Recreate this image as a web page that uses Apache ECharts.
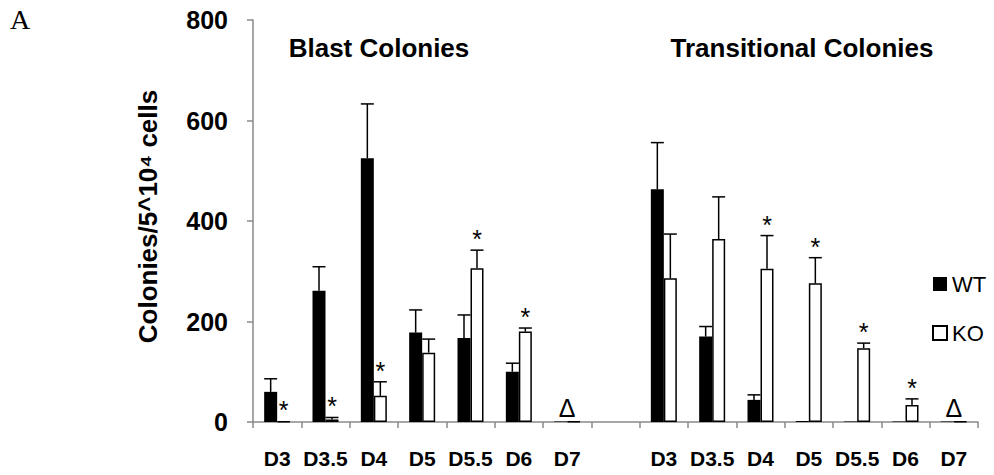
<!DOCTYPE html>
<html>
<head>
<meta charset="utf-8">
<script src="https://cdn.jsdelivr.net/npm/echarts@6/dist/echarts.min.js"></script>
<style>
  html, body { margin: 0; padding: 0; background: #fff; }
  #chart { width: 994px; height: 475px; }
</style>
</head>
<body>
<div id="chart"></div>
<script>
// ---- data ----
var categories = ['D3','D3.5','D4','D5','D5.5','D6','D7','','D3','D3.5','D4','D5','D5.5','D6','D7'];
var wtMean = [60, 261, 525, 178, 167, 100, 1, null, 463, 170, 44, 2, 1, 1, 1];
var wtErr  = [26, 48, 108, 45, 46, 17, 0, null, 93, 20, 10, 0, 0, 0, 0];
var koMean = [1, 5, 52, 138, 306, 180, 1, null, 286, 364, 305, 276, 147, 34, 1];
var koErr  = [0, 4, 28, 27, 36, 7, 0, null, 88, 84, 66, 51, 10, 12, 0];
var marks  = ['*','*','*','','*','*','\u0394','','','','*','*','*','*','\u0394'];
var yTicks = [0, 200, 400, 600, 800];
var panelTitles = ['Blast Colonies', 'Transitional Colonies'];

var FONT = '"Liberation Sans", Arial, sans-serif';
var BAR_W = 13;
var HALF = BAR_W / 2;

var chart = echarts.init(document.getElementById('chart'), null, { renderer: 'svg' });

function errSeries(name, mean, err, dx) {
  return {
    type: 'custom',
    name: name + ' err',
    z: 5,
    silent: true,
    data: mean.map(function (m, i) { return m == null ? [i, null, null] : [i, m, err[i]]; }),
    renderItem: function (params, api) {
      var m = api.value(1), e = api.value(2);
      if (m == null || isNaN(m) || !e) return null;
      var p0 = api.coord([api.value(0), m]);
      var p1 = api.coord([api.value(0), m + e]);
      var x = p0[0] + dx;
      var st = { stroke: '#000', lineWidth: 1.5 };
      return {
        type: 'group',
        children: [
          { type: 'line', shape: { x1: x, y1: p0[1], x2: x, y2: p1[1] }, style: st },
          { type: 'line', shape: { x1: x - HALF, y1: p1[1], x2: x + HALF, y2: p1[1] }, style: st }
        ]
      };
    }
  };
}

var markSeries = {
  type: 'custom',
  name: 'marks',
  z: 6,
  silent: true,
  data: marks.map(function (t, i) {
    var top = koMean[i] == null ? 0 : koMean[i] + (koErr[i] || 0);
    return [i, top];
  }),
  renderItem: function (params, api) {
    var i = params.dataIndex;
    var t = marks[i];
    if (!t) return null;
    var p;
    if (t === '*') {
      p = api.coord([api.value(0), api.value(1)]);
      return { type: 'text', x: p[0] + HALF, y: p[1] - 11,
        style: { text: t, fill: '#000', font: '25px ' + FONT, align: 'center', verticalAlign: 'middle' } };
    }
    p = api.coord([api.value(0), 0]);
    return { type: 'text', x: p[0], y: p[1] - 14,
      style: { text: t, fill: '#000', font: '25px ' + FONT, align: 'center', verticalAlign: 'middle' } };
  }
};

var option = {
  animation: false,
  backgroundColor: '#fff',
  textStyle: { fontFamily: FONT },
  grid: { left: 253, right: 16, top: 20, bottom: 53, containLabel: false, outerBoundsMode: 'none' },
  graphic: [
    { type: 'text', left: 10, top: 5, style: { text: 'A', fill: '#000', font: '28px "Liberation Serif", "Times New Roman", serif' } },
    { type: 'text', x: 379, y: 48, style: { text: panelTitles[0], fill: '#000', font: 'bold 26px ' + FONT, align: 'center', verticalAlign: 'middle' } },
    { type: 'text', x: 802, y: 48, style: { text: panelTitles[1], fill: '#000', font: 'bold 26px ' + FONT, align: 'center', verticalAlign: 'middle' } }
  ],
  legend: {
    orient: 'vertical',
    left: 927,
    top: 268,
    itemWidth: 14,
    itemHeight: 14,
    itemGap: 27,
    icon: 'rect',
    data: ['WT', 'KO'],
    textStyle: { fontSize: 22, color: '#000', fontFamily: FONT }
  },
  xAxis: {
    type: 'category',
    data: categories,
    axisLine: { lineStyle: { color: '#8a8a8a', width: 1.5 } },
    axisTick: { show: true, length: 6, alignWithLabel: false, interval: 0, lineStyle: { color: '#8a8a8a', width: 1.5 } },
    axisLabel: { interval: 0, margin: 26, color: '#000', fontWeight: 'bold', fontSize: 21, fontFamily: FONT },
    splitLine: { show: false }
  },
  yAxis: {
    type: 'value',
    min: yTicks[0],
    max: yTicks[yTicks.length - 1],
    interval: yTicks[1] - yTicks[0],
    name: 'Colonies/5^10\u2074 cells',
    nameLocation: 'middle',
    nameRotate: 90,
    nameGap: 92,
    nameTextStyle: { color: '#000', fontWeight: 'bold', fontSize: 26, fontFamily: FONT, padding: [0, 0, 0, 9] },
    axisLine: { show: true, lineStyle: { color: '#8a8a8a', width: 1.5 } },
    axisTick: { show: true, length: 6, lineStyle: { color: '#8a8a8a', width: 1.5 } },
    axisLabel: { margin: 25, color: '#000', fontWeight: 'bold', fontSize: 25, fontFamily: FONT },
    splitLine: { show: false }
  },
  series: [
    {
      name: 'WT', type: 'bar', data: wtMean, barWidth: BAR_W, barGap: '0%',
      itemStyle: { color: '#000', borderColor: '#000', borderWidth: 0 }
    },
    {
      name: 'KO', type: 'bar', data: koMean, barWidth: BAR_W, barGap: '0%',
      itemStyle: { color: '#fff', borderColor: '#000', borderWidth: 1.5 }
    },
    errSeries('WT', wtMean, wtErr, -HALF),
    errSeries('KO', koMean, koErr, HALF),
    markSeries
  ]
};

chart.setOption(option);
</script>
</body>
</html>
